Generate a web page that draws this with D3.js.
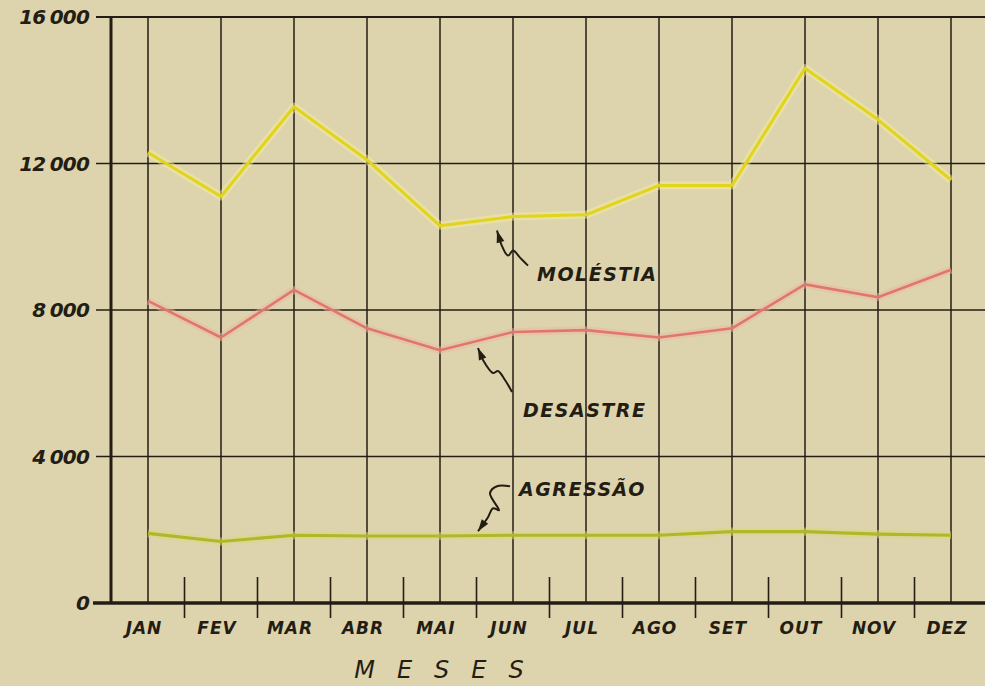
<!DOCTYPE html>
<html>
<head>
<meta charset="utf-8">
<script src="https://cdn.jsdelivr.net/npm/d3@7"></script>
<style>
  html, body { margin: 0; padding: 0; background: #dcd2ad; }
  svg { display: block; }
</style>
</head>
<body>
<div id="chart"></div>
<script>
// Months and values
var months = ["JAN", "FEV", "MAR", "ABR", "MAI", "JUN", "JUL", "AGO", "SET", "OUT", "NOV", "DEZ"];
var molestia = [12300, 11100, 13550, 12100, 10300, 10550, 10600, 11400, 11400, 14600, 13200, 11550];
var desastre = [8250, 7250, 8550, 7500, 6900, 7400, 7450, 7250, 7500, 8700, 8350, 9100];
var agressao = [1900, 1680, 1850, 1830, 1830, 1850, 1850, 1850, 1950, 1950, 1880, 1850];
var yTicks = [0, 4000, 8000, 12000, 16000];

var width = 985, height = 686;
var ink = "#231d14";

var svg = d3.select("#chart").append("svg")
  .attr("width", width)
  .attr("height", height);

// paper
svg.append("rect").attr("width", width).attr("height", height).attr("fill", "#ddd4ae");

var x = d3.scalePoint().domain(months).range([148, 951]);
var y = d3.scaleLinear().domain([0, 16000]).range([603, 17]);
var step = x.step();

var font = "'DejaVu Sans', sans-serif";

// horizontal grid lines
svg.append("g").selectAll("line")
  .data(yTicks.filter(d => d > 0))
  .join("line")
  .attr("x1", 96).attr("x2", width)
  .attr("y1", d => y(d)).attr("y2", d => y(d))
  .attr("stroke", ink)
  .attr("stroke-width", d => d == 16000 ? 2 : 1.6);

// vertical month lines
svg.append("g").selectAll("line")
  .data(months)
  .join("line")
  .attr("x1", d => x(d)).attr("x2", d => x(d))
  .attr("y1", y(16000)).attr("y2", y(0))
  .attr("stroke", ink)
  .attr("stroke-width", 1.5);

// left axis
svg.append("line")
  .attr("x1", 111).attr("x2", 111)
  .attr("y1", y(16000)).attr("y2", y(0))
  .attr("stroke", ink).attr("stroke-width", 3);

// bottom axis
svg.append("line")
  .attr("x1", 93).attr("x2", width)
  .attr("y1", y(0)).attr("y2", y(0))
  .attr("stroke", ink).attr("stroke-width", 3.5);

// short ticks between months
svg.append("g").selectAll("line")
  .data(months.slice(0, -1))
  .join("line")
  .attr("x1", d => x(d) + step / 2).attr("x2", d => x(d) + step / 2)
  .attr("y1", y(0) - 26).attr("y2", y(0) + 15)
  .attr("stroke", ink).attr("stroke-width", 1.6);

// y labels
svg.append("g").selectAll("text")
  .data(yTicks)
  .join("text")
  .attr("x", 89)
  .attr("y", d => y(d))
  .attr("dy", "0.36em")
  .attr("text-anchor", "end")
  .attr("font-family", font)
  .attr("font-style", "italic")
  .attr("font-weight", "bold")
  .attr("font-size", 20)
  .attr("letter-spacing", -0.8)
  .attr("fill", ink)
  .text(d => d == 0 ? "0" : d3.format(",")(d).replace(",", "\u2005"));

// month labels
svg.append("g").selectAll("text")
  .data(months)
  .join("text")
  .attr("x", d => x(d) - 4)
  .attr("y", y(0) + 31)
  .attr("text-anchor", "middle")
  .attr("font-family", font)
  .attr("font-style", "italic")
  .attr("font-weight", "bold")
  .attr("font-size", 17)
  .attr("letter-spacing", 1)
  .attr("fill", ink)
  .text(d => d);

// axis title
svg.append("text")
  .attr("x", 450).attr("y", 678)
  .attr("text-anchor", "middle")
  .attr("font-family", font)
  .attr("font-style", "italic")
  .attr("font-size", 24)
  .attr("letter-spacing", 22)
  .attr("fill", ink)
  .text("MESES");

// series lines
var line = d3.line().x((d, i) => x(months[i])).y(d => y(d));

function drawSeries(values, halo, color, w) {
  svg.append("path")
    .attr("d", line(values))
    .attr("fill", "none")
    .attr("stroke", halo)
    .attr("stroke-width", w + 5)
    .attr("stroke-opacity", 0.5)
    .attr("stroke-linejoin", "round");
  svg.append("path")
    .attr("d", line(values))
    .attr("fill", "none")
    .attr("stroke", color)
    .attr("stroke-width", w)
    .attr("stroke-linejoin", "round");
}

drawSeries(molestia, "#f3ee9a", "#e2d31e", 3);
drawSeries(desastre, "#ecb6a6", "#df7868", 2.6);
drawSeries(agressao, "#d8d97c", "#b3b62a", 3.2);

// labels with squiggly arrows, anchored to the JUN point of each line
function label(text, series, dx, dy, arrow) {
  var ax = x("JUN"), ay = y(series[5]);
  svg.append("text")
    .attr("x", ax + dx).attr("y", ay + dy)
    .attr("font-family", font)
    .attr("font-style", "italic")
    .attr("font-weight", "bold")
    .attr("font-size", 19)
    .attr("letter-spacing", 1.5)
    .attr("fill", ink)
    .text(text);
  var pts = arrow.map(p => [ax + p[0], ay + p[1]]);
  svg.append("path")
    .attr("d", d3.line().curve(d3.curveCatmullRom)(pts))
    .attr("fill", "none")
    .attr("stroke", ink)
    .attr("stroke-width", 2)
    .attr("stroke-linejoin", "round");
  // arrow head at first point
  var t = pts[0], b = pts[1];
  var ang = Math.atan2(t[1] - b[1], t[0] - b[0]);
  var L = 12, W = 4;
  var bx = t[0] - L * Math.cos(ang), by = t[1] - L * Math.sin(ang);
  svg.append("path")
    .attr("d", "M" + t[0] + "," + t[1] +
      "L" + (bx + W * Math.sin(ang)) + "," + (by - W * Math.cos(ang)) +
      "L" + (bx - W * Math.sin(ang)) + "," + (by + W * Math.cos(ang)) + "Z")
    .attr("fill", ink);
}

label("MOLÉSTIA", molestia, 24, 64,
  [[-16, 14], [-12, 27], [-5, 39], [0, 34], [7, 41], [15, 49]]);
label("DESASTRE", desastre, 10, 85,
  [[-35, 16], [-30, 28], [-20, 41], [-15, 39], [-8, 48], [-1, 60]]);
label("AGRESSÃO", agressao, 6, -39,
  [[-35, -4], [-25, -18], [-20, -27], [-14, -25], [-23, -42], [-16, -49], [-3, -49]]);
</script>
</body>
</html>
